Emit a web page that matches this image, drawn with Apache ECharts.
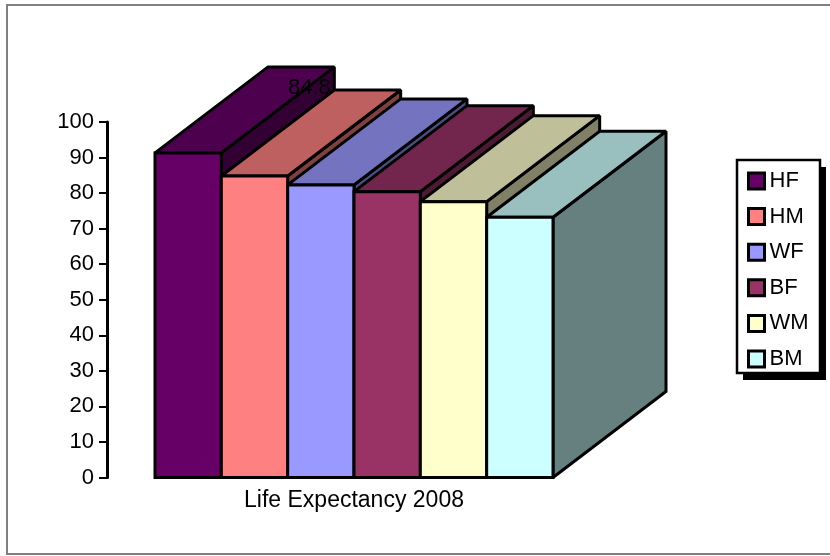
<!DOCTYPE html>
<html>
<head>
<meta charset="utf-8">
<script src="https://cdn.jsdelivr.net/npm/echarts@6/dist/echarts.min.js"></script>
<style>
html,body{margin:0;padding:0;background:#fff;}
#chart{width:830px;height:556px;}
</style>
</head>
<body>
<div id="chart"></div>
<script>
var categories = ['Life Expectancy 2008'];
var seriesNames = ['HF', 'HM', 'WF', 'BF', 'WM', 'BM'];
var seriesValues = [91.3, 84.8, 82.3, 80.4, 77.6, 73.2];
var seriesColors = ['#660066', '#ff8080', '#9999ff', '#993366', '#ffffcc', '#ccffff'];
var labelledSeries = 'HM';
var yTicks = [0, 10, 20, 30, 40, 50, 60, 70, 80, 90, 100];

var FONT = 'Liberation Sans, Arial, sans-serif';
var DX = 113, DY = -86;
var GROUP_RATIO = 398 / 494;

function shade(hex, f) {
  var n = parseInt(hex.slice(1), 16);
  var r = Math.round(((n >> 16) & 255) * f);
  var g = Math.round(((n >> 8) & 255) * f);
  var b = Math.round((n & 255) * f);
  return 'rgb(' + r + ',' + g + ',' + b + ')';
}

function makeRender(idx) {
  return function (params, api) {
    var N = seriesNames.length;
    var base = api.coord([api.value(0), 0]);
    var top = api.coord([api.value(0), api.value(1)]);
    var band = api.size([1, 0])[0];
    var groupW = band * GROUP_RATIO;
    var w = groupW / N;
    var x0 = base[0] - groupW / 2 + idx * w;
    var yb = base[1], yt = top[1];
    var col = seriesColors[idx];
    var stroke = {stroke: '#000', lineWidth: 3, lineJoin: 'miter', miterLimit: 1.5};
    var children = [
      {type: 'polygon', shape: {points: [[x0 + w, yt], [x0 + w + DX, yt + DY], [x0 + w + DX, yb + DY], [x0 + w, yb]]},
        style: Object.assign({fill: shade(col, 0.5)}, stroke)},
      {type: 'polygon', shape: {points: [[x0, yt], [x0 + w, yt], [x0 + w + DX, yt + DY], [x0 + DX, yt + DY]]},
        style: Object.assign({fill: shade(col, 0.75)}, stroke)},
      {type: 'rect', shape: {x: x0, y: yt, width: w, height: yb - yt},
        style: Object.assign({fill: col}, stroke)}
    ];
    if (seriesNames[idx] === labelledSeries) {
      children.push({type: 'text', z2: 100,
        style: {x: x0 + DX - 25, y: yt + DY - 2, text: String(api.value(1)), fill: '#000',
          font: '22px ' + FONT, align: 'center', verticalAlign: 'middle'}});
    }
    return {type: 'group', children: children};
  };
}

var series = seriesNames.map(function (name, i) {
  return {
    type: 'custom',
    name: name,
    clip: false,
    itemStyle: {color: seriesColors[i]},
    renderItem: makeRender(i),
    encode: {x: 0, y: 1},
    data: [[0, seriesValues[i]]]
  };
});

var chart = echarts.init(document.getElementById('chart'), null, {renderer: 'canvas'});
chart.setOption({
  animation: false,
  backgroundColor: '#fff',
  textStyle: {fontFamily: FONT},
  grid: {left: 107, right: 229, top: 122, bottom: 78.5},
  xAxis: {
    type: 'category',
    data: categories,
    axisLine: {show: false},
    axisTick: {show: false},
    axisLabel: {fontSize: 23, color: '#000', margin: 12, fontFamily: FONT}
  },
  yAxis: {
    type: 'value',
    min: yTicks[0],
    max: yTicks[yTicks.length - 1],
    interval: yTicks[1] - yTicks[0],
    splitLine: {show: false},
    axisLine: {show: true, lineStyle: {color: '#000', width: 3}},
    axisTick: {show: true, length: 8, lineStyle: {color: '#000', width: 2}},
    axisLabel: {fontSize: 22, color: '#000', margin: 13, fontFamily: FONT}
  },
  legend: {
    orient: 'vertical',
    left: 747,
    top: 170,
    padding: 0,
    itemWidth: 16,
    itemHeight: 16,
    itemGap: 13.6,
    icon: 'rect',
    z: 10,
    itemStyle: {borderColor: '#000', borderWidth: 3},
    textStyle: {fontSize: 22, color: '#000', lineHeight: 22, fontFamily: FONT},
    data: seriesNames
  },
  graphic: [
    {type: 'rect', z: -10, shape: {x: 7, y: 5, width: 830, height: 549}, style: {fill: 'none', stroke: '#808080', lineWidth: 2}},
    {type: 'rect', z: 1, shape: {x: 743, y: 167, width: 83, height: 213}, style: {fill: '#000'}},
    {type: 'rect', z: 2, shape: {x: 737, y: 160, width: 83, height: 213}, style: {fill: '#fff', stroke: '#000', lineWidth: 2.5}}
  ],
  series: series
});
</script>
</body>
</html>
